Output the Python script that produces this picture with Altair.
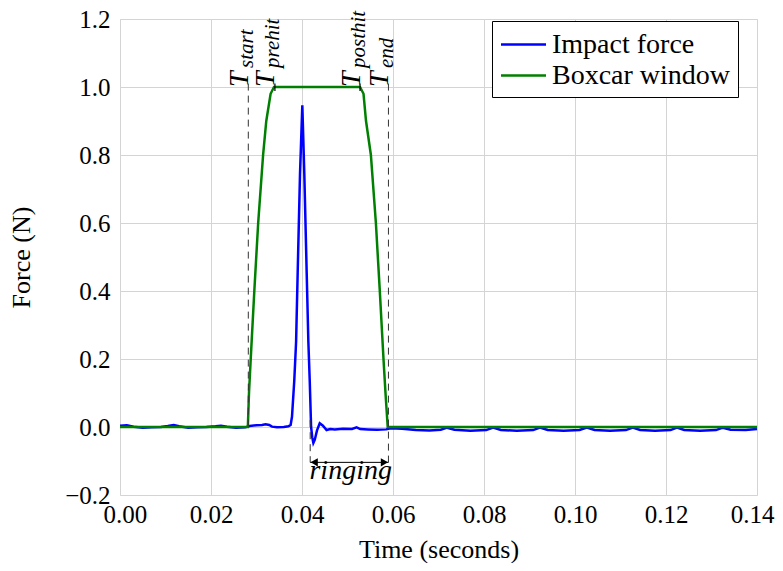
import altair as alt
import pandas as pd

# ---- data ----
series = ["Impact force", "Boxcar window"]
series_colors = ["#0000ff", "#008000"]

t_force = [0.0000, 0.0015, 0.0030, 0.0050, 0.0070, 0.0090, 0.0105, 0.0118, 0.0130, 0.0150,
           0.0170, 0.0190, 0.0210, 0.0222, 0.0235, 0.0255, 0.0275, 0.0285, 0.0300, 0.0312,
           0.0320, 0.0328, 0.0334, 0.0345, 0.0360, 0.0370, 0.0375, 0.0378, 0.0383, 0.0387,
           0.03905, 0.03956, 0.04007, 0.04051, 0.04103, 0.0414, 0.0417, 0.0420, 0.04225, 0.0425,
           0.0428, 0.0433, 0.0439, 0.0446, 0.0454, 0.0462, 0.0472, 0.0490, 0.0510, 0.0520,
           0.0528, 0.0545, 0.0565, 0.0585, 0.0595, 0.0620, 0.0650, 0.0680, 0.0705, 0.0719,
           0.0735, 0.0770, 0.0805, 0.0820, 0.0837, 0.0872, 0.0908, 0.0923, 0.0940, 0.0975,
           0.1010, 0.1026, 0.1043, 0.1077, 0.1112, 0.1127, 0.1143, 0.1176, 0.1210, 0.1224,
           0.1240, 0.1275, 0.1310, 0.1325, 0.1342, 0.1375, 0.1400]
f_force = [0.004, 0.005, 0.001, -0.002, -0.001, 0.000, 0.003, 0.006, 0.002, -0.002,
           -0.001, 0.000, 0.002, 0.004, 0.001, -0.002, -0.001, 0.003, 0.005, 0.006,
           0.008, 0.006, 0.001, -0.001, 0.000, 0.002, 0.006, 0.030, 0.136, 0.250,
           0.454, 0.743, 0.946, 0.743, 0.454, 0.250, 0.136, 0.000, -0.030, -0.047,
           -0.038, -0.010, 0.011, 0.004, -0.009, -0.006, -0.007, -0.005, -0.006, -0.001,
           -0.006, -0.007, -0.008, -0.007, -0.004, -0.005, -0.009, -0.010, -0.008, -0.002,
           -0.008, -0.011, -0.009, -0.002, -0.009, -0.011, -0.009, -0.002, -0.009, -0.011,
           -0.009, -0.002, -0.009, -0.011, -0.009, -0.002, -0.009, -0.011, -0.009, -0.002,
           -0.009, -0.011, -0.009, -0.002, -0.008, -0.009, -0.006]

t_box = [0.0000, 0.0281, 0.02835, 0.02873, 0.02952, 0.03037, 0.03145, 0.03215, 0.03310, 0.03385,
         0.05275, 0.05352, 0.05407, 0.05514, 0.05624, 0.05710, 0.05791, 0.05835, 0.05884, 0.1400]
w_box = [0.0, 0.0, 0.1, 0.2, 0.4, 0.6, 0.8, 0.9, 0.98, 1.0,
         1.0, 0.98, 0.9, 0.8, 0.6, 0.4, 0.2, 0.1, 0.0, 0.0]

marker_t = [0.0282, 0.0590, 0.0418]
marker_top = [1.01, 1.01, 0.02]
marker_bottom = [0.0, -0.104, -0.104]

corner_t = [0.03405, 0.05275]
corner_top = [1.01, 1.01]
corner_bottom = [0.988, 0.988]

label_t = [0.0282, 0.0339, 0.0527, 0.0590]
label_main = ["T", "T", "T", "T"]
label_sub = ["start", "prehit", "posthit", "end"]
label_v = [1.0, 1.0, 1.0, 1.0]

arrow_t = [0.0418]
arrow_t2 = [0.0590]
arrow_v = [-0.104]

ringing_t = [0.0507]
ringing_v = [-0.153]
ringing_text = ["ringing"]

x_ticks = [0.0, 0.02, 0.04, 0.06, 0.08, 0.10, 0.12, 0.14]
y_ticks = [-0.2, 0.0, 0.2, 0.4, 0.6, 0.8, 1.0, 1.2]

FONT = "Liberation Serif"
PLOT_W = 637
PLOT_H = 476

# ---- frames ----
df_force = pd.DataFrame({"t": t_force, "v": f_force, "s": series[0]})
df_box = pd.DataFrame({"t": t_box, "v": w_box, "s": series[1]})
df_mark = pd.DataFrame({"t": marker_t, "v": marker_top, "v2": marker_bottom})
df_corner = pd.DataFrame({"t": corner_t, "v": corner_top, "v2": corner_bottom})
df_lab = pd.DataFrame({"t": label_t, "v": label_v, "main": label_main, "sub": label_sub})
df_arrow = pd.DataFrame({"t": arrow_t, "t2": arrow_t2, "v": arrow_v})
df_ring = pd.DataFrame({"t": ringing_t, "v": ringing_v, "txt": ringing_text})

x_scale = alt.Scale(domain=[0.0, 0.14], nice=False, zero=False)
y_scale = alt.Scale(domain=[-0.2, 1.2], nice=False, zero=False)

x_enc = alt.X("t:Q", scale=x_scale,
              axis=alt.Axis(values=x_ticks, format=".2f", title="Time (seconds)",
                            grid=True, gridColor="#d4d4d4", gridWidth=1,
                            ticks=False, tickSize=0, domain=False,
                            labelPadding=7, labelFlush=True, labelFlushOffset=17,
                            labelOverlap=False,
                            labelFont=FONT, labelFontSize=25, labelColor="black",
                            titleFont=FONT, titleFontSize=26, titleFontWeight="normal",
                            titleColor="black", titleX=PLOT_W / 2, titleY=62,
                            titleBaseline="alphabetic"))
y_enc = alt.Y("v:Q", scale=y_scale,
              axis=alt.Axis(values=y_ticks, format=".1f", title="Force (N)",
                            grid=True, gridColor="#d4d4d4", gridWidth=1,
                            ticks=False, tickSize=0, domain=False,
                            labelPadding=10, labelFlush=False, labelOverlap=False,
                            labelFont=FONT, labelFontSize=25, labelColor="black",
                            titleFont=FONT, titleFontSize=26, titleFontWeight="normal",
                            titleColor="black", titleX=-91, titleY=PLOT_H / 2,
                            titleBaseline="alphabetic"))

color_enc = alt.Color("s:N",
                      scale=alt.Scale(domain=series, range=series_colors),
                      title=None,
                      legend=alt.Legend(orient="none", legendX=372, legendY=2,
                                        symbolType="M-1.5,0L1.5,0", symbolSize=900,
                                        symbolStrokeWidth=2.5, symbolOffset=8,
                                        labelOffset=12, labelFont=FONT, labelFontSize=28,
                                        labelColor="black", labelLimit=400,
                                        padding=7, rowPadding=0,
                                        strokeColor="black", fillColor="white",
                                        cornerRadius=0))

force_line = alt.Chart(df_force).mark_line(strokeWidth=2.5).encode(x=x_enc, y=y_enc, color=color_enc)
box_line = alt.Chart(df_box).mark_line(strokeWidth=2.5).encode(x=x_enc, y=y_enc, color=color_enc)

dashes = alt.Chart(df_mark).mark_rule(strokeDash=[7, 5], color="#333333", strokeWidth=1).encode(
    x=x_enc, y=y_enc, y2="v2:Q")
corners = alt.Chart(df_corner).mark_rule(color="black", strokeWidth=1.2).encode(
    x=x_enc, y=y_enc, y2="v2:Q")

arrow_line = alt.Chart(df_arrow).mark_rule(color="black", strokeWidth=1).encode(
    x=x_enc, x2="t2:Q", y=y_enc)
arrow_left = alt.Chart(df_arrow).mark_point(shape="triangle-left", filled=True, size=70,
                                            color="black", opacity=1, xOffset=4).encode(x=x_enc, y=y_enc)
arrow_right = alt.Chart(df_arrow).mark_point(shape="triangle-right", filled=True, size=70,
                                             color="black", opacity=1, xOffset=-4).encode(
    x=alt.X("t2:Q", scale=x_scale), y=y_enc)

t_main = alt.Chart(df_lab).mark_text(angle=270, align="left", baseline="alphabetic",
                                     font=FONT, fontStyle="italic", fontSize=28,
                                     color="black", dx=0).encode(x=x_enc, y=y_enc, text="main:N")
t_sub = alt.Chart(df_lab).mark_text(angle=270, align="left", baseline="alphabetic",
                                    font=FONT, fontStyle="italic", fontSize=21,
                                    color="black", dx=19, dy=5).encode(x=x_enc, y=y_enc, text="sub:N")

ring = alt.Chart(df_ring).mark_text(align="center", baseline="alphabetic", font=FONT,
                                    fontStyle="italic", fontSize=28, color="black").encode(
    x=x_enc, y=y_enc, text="txt:N")

chart = alt.layer(force_line, box_line, dashes, corners, arrow_line, arrow_left, arrow_right,
                  t_main, t_sub, ring).properties(
    width=PLOT_W, height=PLOT_H,
    padding={"left": 112, "top": 11, "right": 18, "bottom": 68},
    autosize=alt.AutoSizeParams(type="none"),
).configure_view(stroke="black", strokeWidth=1).configure(font=FONT)

chart.save("out.html", embed_options={"renderer": "svg", "actions": False})
